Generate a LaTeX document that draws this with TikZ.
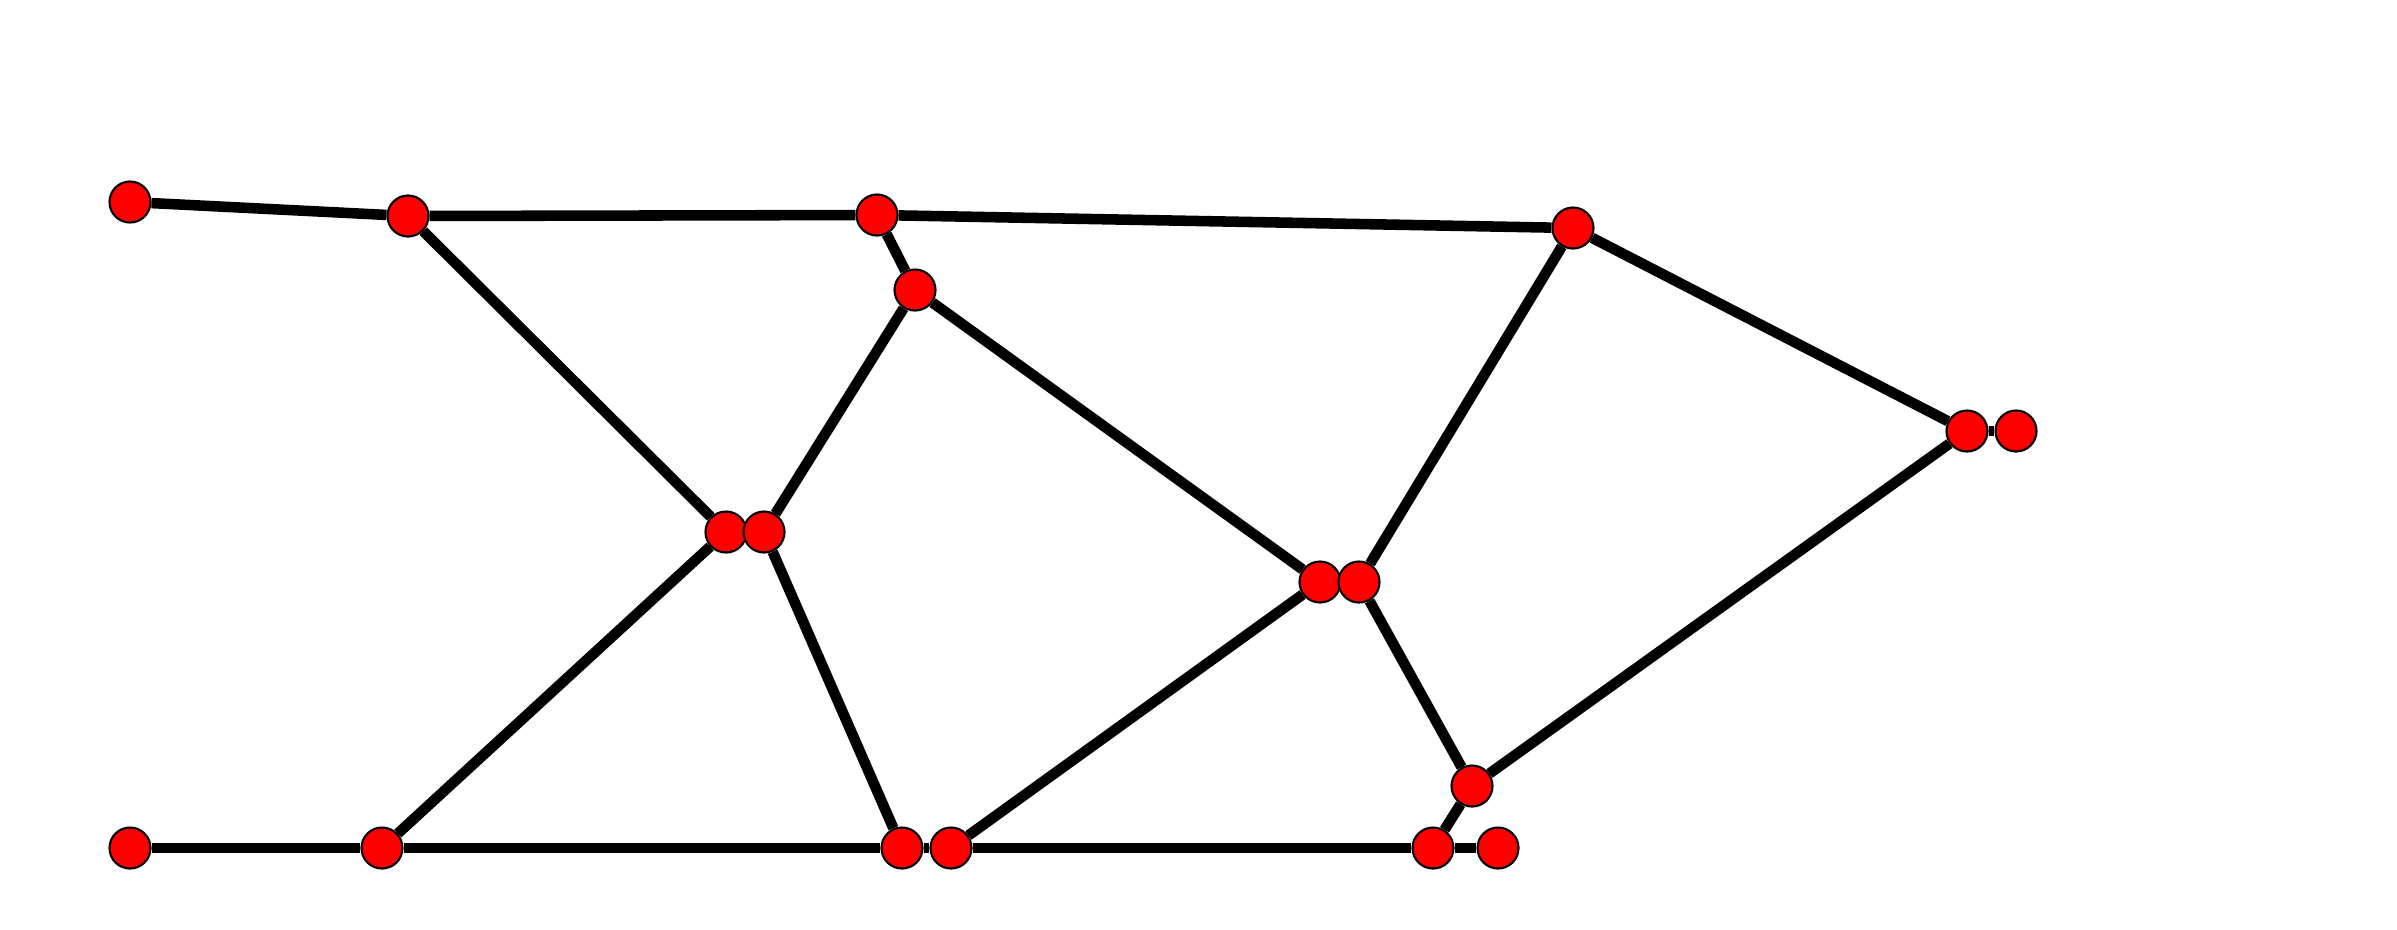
\documentclass[tikz,border=0pt]{standalone}
\usetikzlibrary{backgrounds}

\begin{document}
\begin{tikzpicture}[x=0.01cm,y=-0.01cm,
  vertex/.style={circle,fill=red,draw=black,line width=0.6pt,minimum size=0.41cm,inner sep=0pt},
  edge/.style={line width=3pt}]
      \useasboundingbox (0,0) rectangle (2397,929);
      \foreach \Name/\X/\Y in {a/130/202, b/408/216, c/877/215, d/915/290,
          e/1573/228, f/1967/431, g/2016/431, h/726/532, i/764/532,
          j/1320/582, k/1359/582, l/1472/786, m/130/848, n/382/848,
          o/902/848, p/951/848, q/1433/848, r/1498/848}
\node[vertex] (\Name) at (\X,\Y) {};
\begin{scope}[on background layer]
      \foreach \From/\To in {a/b, b/c, c/e, c/d, b/h, d/i, d/j, e/k, e/f, f/g,
          f/l, h/i, h/n, i/o, j/k, j/p, k/l, l/q, m/n, n/o, o/p, p/q, q/r}
\draw[edge] (\From) -- (\To);
\end{scope}
    \end{tikzpicture}
\end{document}
